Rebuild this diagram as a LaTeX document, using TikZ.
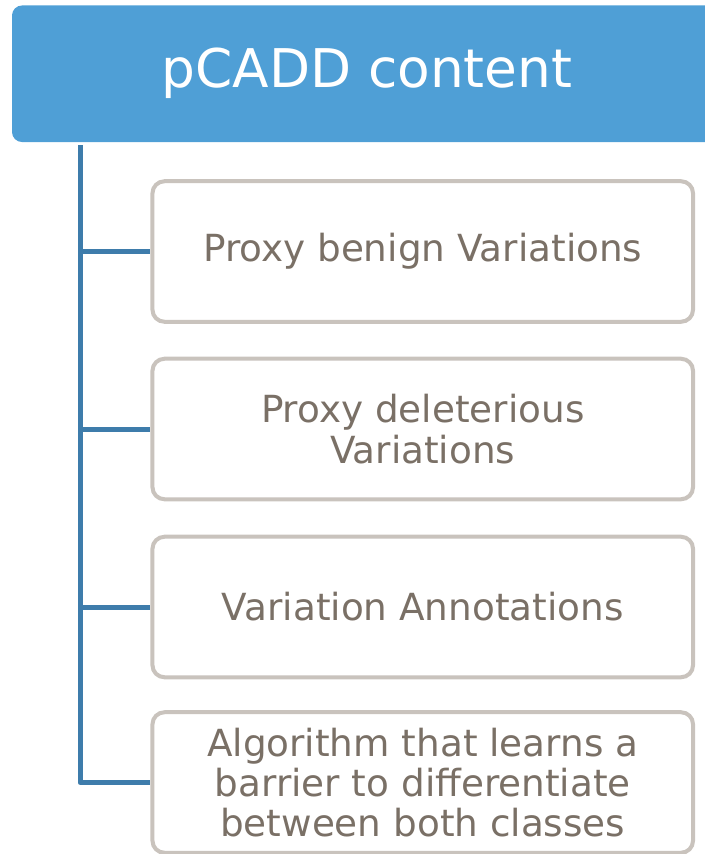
\documentclass[tikz,border=0pt]{standalone}
\usepackage{fontspec}
\setmainfont{DejaVu Sans}
\definecolor{headblue}{HTML}{4F9FD6}
\definecolor{lineblue}{HTML}{3E7CAB}
\definecolor{boxgray}{HTML}{C9C3BD}
\definecolor{textgray}{HTML}{7A7066}
\tikzset{
  header/.style={fill=headblue, draw=none, rounded corners=7.5pt, text=white,
    font=\fontsize{40}{44}\selectfont, inner sep=0pt,
    minimum width=532.5pt, minimum height=102.4pt},
  itembox/.style={draw=boxgray, line width=3pt, fill=white, rounded corners=9pt,
    text=textgray, font=\fontsize{28}{30.2}\selectfont, align=center, inner sep=0pt,
    minimum width=405.4pt, minimum height=105.4pt},
  conn/.style={draw=lineblue, line width=3.75pt, line join=round}
}
\begin{document}
\begin{tikzpicture}[x=0.75pt,y=-0.75pt]
\useasboundingbox (0,0) rectangle (705,854);
\clip (0,0) rectangle (705,854);
\node[header] (head) at (367,73.75) {pCADD content};
\node[itembox] (b1) at (422.75,251.5) {Proxy benign Variations};
\node[itembox] (b2) at (422.75,429) {Proxy deleterious\\Variations};
\node[itembox] (b3) at (422.75,607) {Variation Annotations};
\node[itembox] (b4) at (422.75,782.5) {Algorithm that learns a\\barrier to differentiate\\between both classes};
\coordinate (top) at (80,145);
\draw[conn] (top) |- (b4.west);
\draw[conn] (b1.west -| top) -- (b1.west);
\draw[conn] (b2.west -| top) -- (b2.west);
\draw[conn] (b3.west -| top) -- (b3.west);
\end{tikzpicture}
\end{document}
